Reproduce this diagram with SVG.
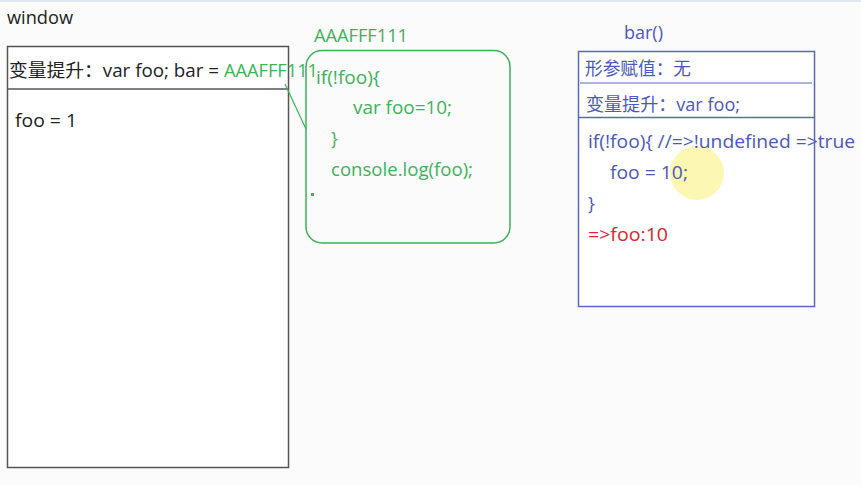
<svg xmlns="http://www.w3.org/2000/svg" width="861" height="485" viewBox="0 0 861 485">
<style>
text{font-family:"Open Sans","Noto Sans CJK SC",sans-serif;font-size:18px}
.k{fill:#222}
.g{fill:#3bb357}
.b{fill:#4a58c0}
.r{fill:#d8262c}
</style>
<rect width="861" height="485" fill="#fbfbfb"/>
<rect x="0" y="0" width="861" height="2" fill="#dfe6ef"/>
<g id="window">
<text class="k" x="7" y="24" textLength="66" lengthAdjust="spacingAndGlyphs">window</text>
<rect x="7.5" y="46.5" width="281" height="421" fill="#ffffff" stroke="#555" stroke-width="1.5"/>
<line x1="7.5" y1="89" x2="288.5" y2="89" stroke="#555" stroke-width="1.5"/>
<text class="k" x="9" y="77" textLength="210" lengthAdjust="spacingAndGlyphs">变量提升：var foo;  bar =</text>
<text class="g" x="224" y="77" textLength="94" lengthAdjust="spacingAndGlyphs">AAAFFF111</text>
<text class="k" x="15" y="127" textLength="62" lengthAdjust="spacingAndGlyphs">foo = 1</text>
</g>
<g id="connectors">
<line x1="285" y1="84" x2="306" y2="129" stroke="#3bb357" stroke-width="1.2"/>
</g>
<g id="func">
<text class="g" x="314" y="42" textLength="94" lengthAdjust="spacingAndGlyphs">AAAFFF111</text>
<rect x="306" y="50.5" width="204" height="192.5" rx="16" fill="none" stroke="#3bb357" stroke-width="1.5"/>
<text class="g" x="316" y="84" textLength="64" lengthAdjust="spacingAndGlyphs">if(!foo){</text>
<text class="g" x="353" y="114" textLength="99" lengthAdjust="spacingAndGlyphs">var foo=10;</text>
<text class="g" x="331" y="145">}</text>
<text class="g" x="331" y="176" textLength="142" lengthAdjust="spacingAndGlyphs">console.log(foo);</text>
<rect x="311" y="193" width="3" height="3" fill="#3bb357"/>
</g>
<g id="bar">
<text class="b" x="624" y="39" textLength="39" lengthAdjust="spacingAndGlyphs">bar()</text>
<rect x="578.5" y="51.5" width="236" height="255" fill="#ffffff" stroke="#5a66c8" stroke-width="1.5"/>
<line x1="580" y1="83" x2="812" y2="83" stroke="#5a66c8" stroke-width="1.2"/>
<line x1="578.5" y1="117.5" x2="814.5" y2="117.5" stroke="#5a66c8" stroke-width="1.5"/>
<text class="b" x="585" y="75" textLength="106" lengthAdjust="spacingAndGlyphs">形参赋值：无</text>
<text class="b" x="586" y="111" textLength="154" lengthAdjust="spacingAndGlyphs">变量提升：var foo;</text>
<circle cx="697" cy="173" r="27" fill="#fbf6a6" opacity="0.85"/>
<text class="b" x="588" y="148" textLength="267" lengthAdjust="spacingAndGlyphs">if(!foo){ //=&gt;!undefined =&gt;true</text>
<text class="b" x="610" y="179" textLength="78" lengthAdjust="spacingAndGlyphs">foo = 10;</text>
<text class="b" x="588" y="210">}</text>
<text class="r" x="588" y="241" textLength="80" lengthAdjust="spacingAndGlyphs">=&gt;foo:10</text>
</g>
</svg>
